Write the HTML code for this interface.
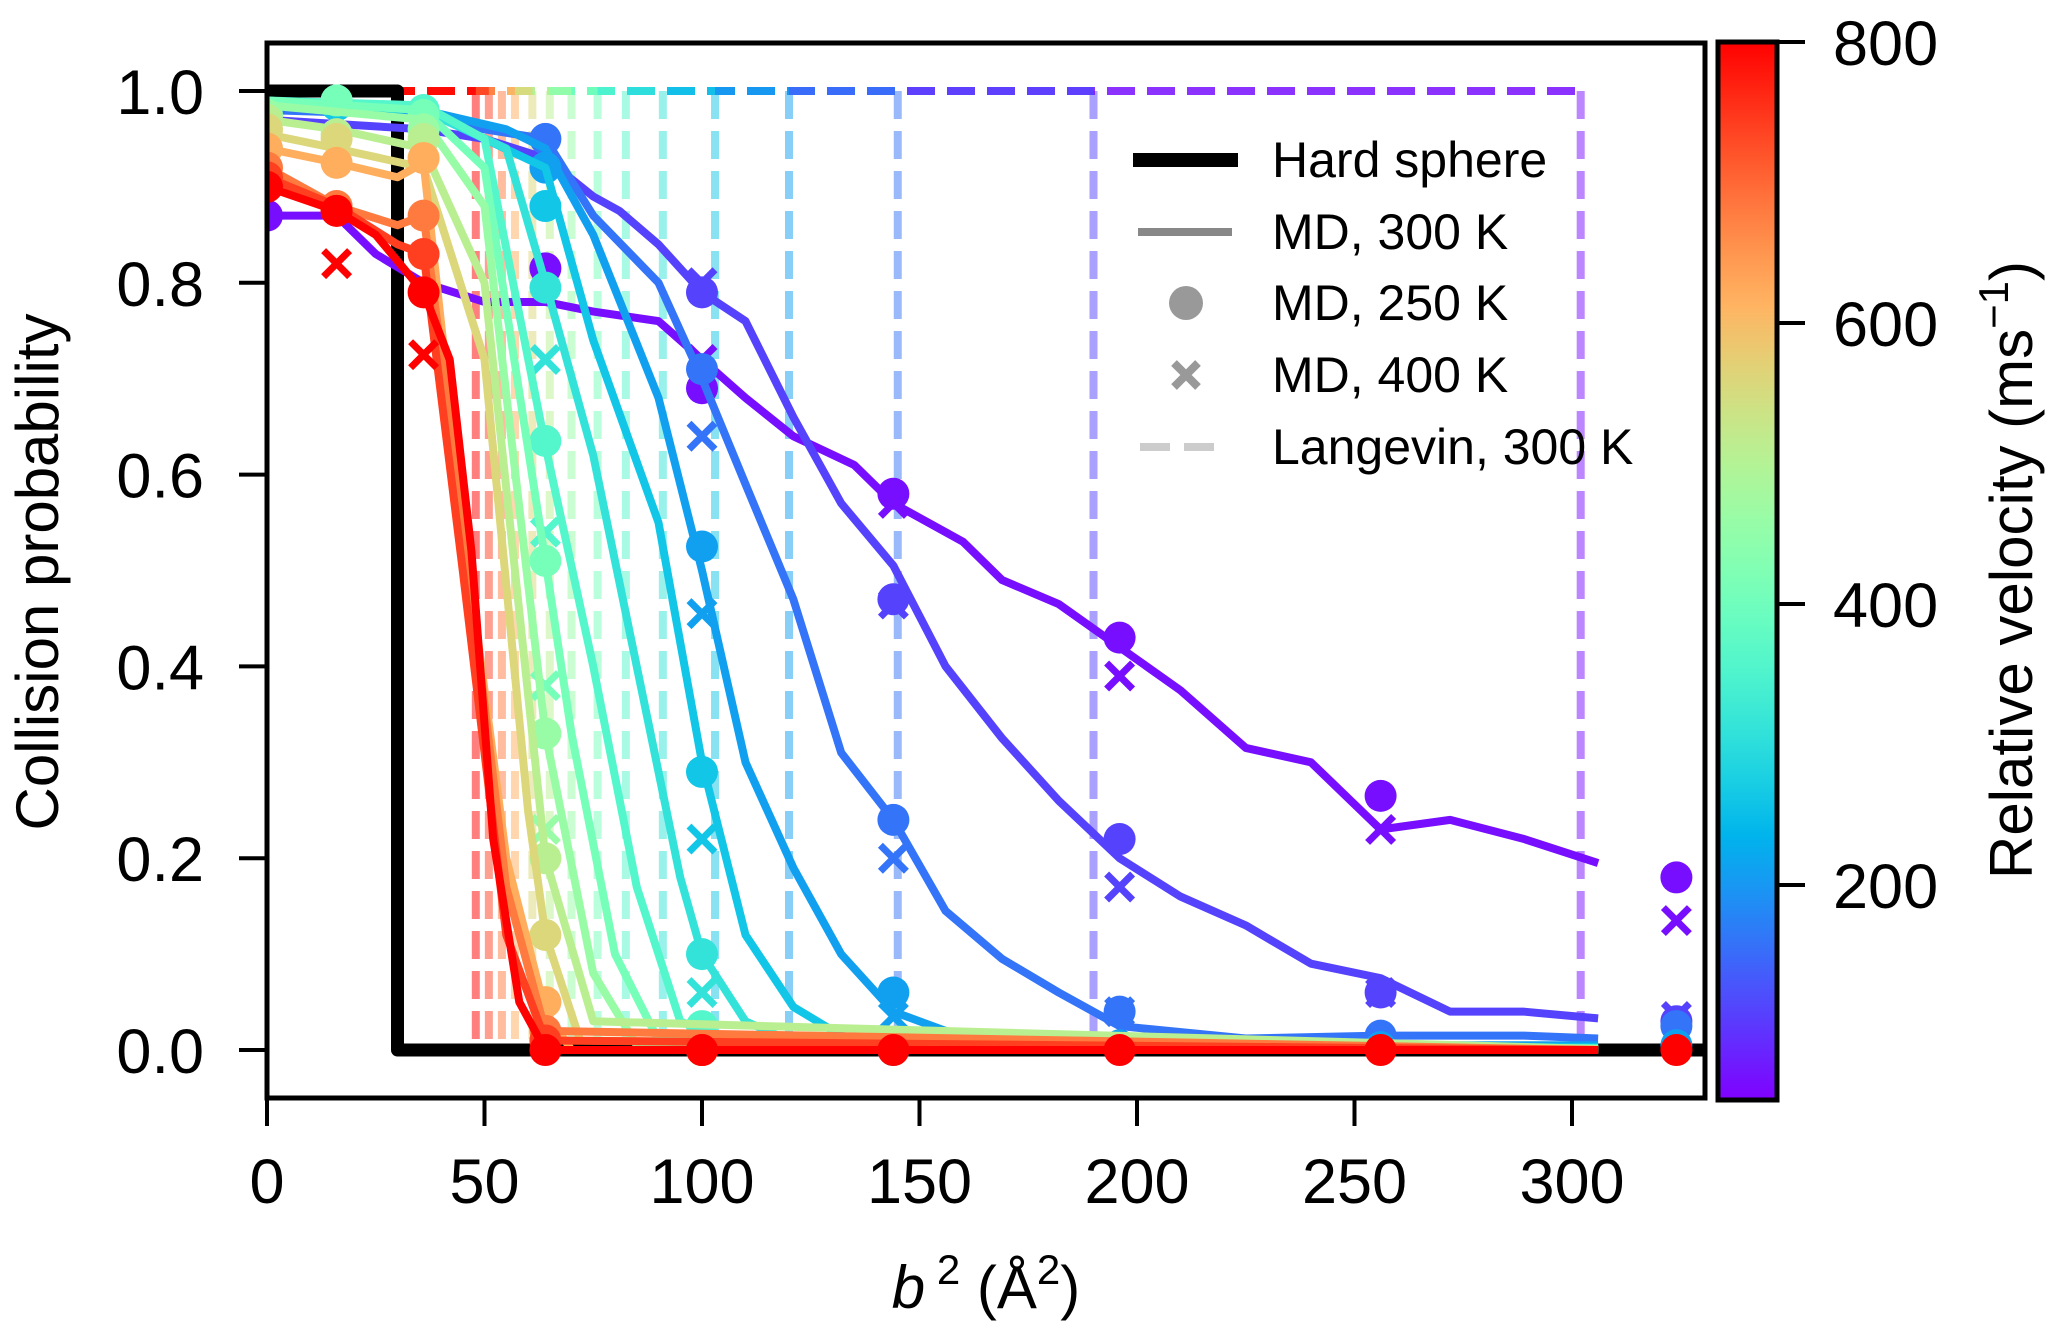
<!DOCTYPE html>
<html><head><meta charset="utf-8"><style>
html,body{margin:0;padding:0;background:#fff;}
svg{display:block;font-family:"Liberation Sans",sans-serif;}
</style></head><body>
<svg id="chart" width="2067" height="1340" viewBox="0 0 2067 1340" xmlns="http://www.w3.org/2000/svg">
<defs>
<linearGradient id="cbgrad" x1="0" y1="1" x2="0" y2="0"></linearGradient>
<clipPath id="plotclip"><rect x="267" y="43" width="1438" height="1055"/></clipPath>
</defs>
<g id="marks" clip-path="url(#plotclip)"></g>
<g id="axes"></g>
</svg>
<script>
// ---- data ----
const velocities = [60,110,160,210,260,310,360,410,460,510,560,620,680,740,800];
const langevinB2 = [302,190,145,120,103,91,82.5,76,70,65,61,57,54,51,48];
const lineX = [
 [0,10,16,25,36,50,64,75,90,100,110,121,135,144,160,169,182,196,210,225,240,256,272,289,306],
 [0,36,50,64,75,81,90,100,110,121,132,144,156,169,182,196,210,225,240,256,272,289,306],
 [0,36,50,64,75,90,100,110,121,132,144,156,169,182,196,225,256,289,306],
 [0,36,55,64,75,90,100,110,121,132,144,156,169,196,306],
 [0,36,64,75,90,100,110,121,132,144,306],
 [0,36,55,64,75,85,95,100,110,121,144,306],
 [0,36,50,64,75,85,95,110,306],
 [0,36,50,64,70,80,90,306],
 [0,36,50,64,75,85,306],
 [0,16,36,50,64,75,306],
 [0,16,36,50,60,64,72,306],
 [0,16,30,36,45,55,64,70,306],
 [0,16,30,36,45,55,64,306],
 [0,16,30,36,45,55,64,306],
 [0,16,25,36,42,47,52,58,64,306]
];
const lineY = [
 [0.87,0.87,0.87,0.83,0.80,0.78,0.78,0.77,0.76,0.72,0.68,0.64,0.61,0.57,0.53,0.49,0.465,0.42,0.375,0.315,0.30,0.23,0.24,0.22,0.195],
 [0.97,0.96,0.95,0.93,0.89,0.875,0.84,0.79,0.76,0.66,0.57,0.505,0.40,0.325,0.26,0.20,0.16,0.13,0.09,0.075,0.04,0.04,0.033],
 [0.98,0.975,0.96,0.95,0.87,0.80,0.70,0.59,0.47,0.31,0.24,0.145,0.095,0.06,0.025,0.012,0.015,0.015,0.012],
 [0.985,0.98,0.96,0.94,0.85,0.68,0.50,0.30,0.19,0.10,0.04,0.02,0.008,0.005,0.005],
 [0.985,0.98,0.92,0.74,0.55,0.30,0.12,0.045,0.015,0.005,0.003],
 [0.99,0.98,0.94,0.80,0.62,0.40,0.18,0.10,0.03,0.008,0.002,0.002],
 [0.99,0.985,0.95,0.63,0.40,0.17,0.03,0.002,0.002],
 [0.99,0.98,0.92,0.51,0.33,0.10,0.01,0.001],
 [0.985,0.97,0.88,0.33,0.08,0.005,0.001],
 [0.97,0.96,0.94,0.80,0.20,0.03,0.001],
 [0.955,0.94,0.92,0.72,0.25,0.12,0.01,0.0],
 [0.94,0.925,0.91,0.925,0.55,0.20,0.04,0.0,0.0],
 [0.92,0.88,0.86,0.87,0.55,0.17,0.02,0.0],
 [0.91,0.88,0.84,0.83,0.50,0.12,0.01,0.0],
 [0.90,0.875,0.85,0.79,0.72,0.52,0.22,0.05,0.0,0.0]
];
const dotX = [
 [0,64,100,144,196,256,324],
 [100,144,196,256,324],
 [64,100,144,196,256,324],
 [64,100,144,196,256,324],
 [16,64,100,144,196],
 [16,36,64,100,144],
 [16,36,64,100],
 [16,36,64,100],
 [0,36,64,100],
 [0,16,36,64,100],
 [0,16,36,64,100],
 [0,16,36,64,100],
 [0,16,36,64,100],
 [0,16,36,64,100],
 [0,16,36,64,100,144,196,256,324]
];
const dotY = [
 [0.87,0.815,0.69,0.58,0.43,0.265,0.18],
 [0.79,0.47,0.22,0.06,0.03],
 [0.95,0.71,0.24,0.04,0.015,0.025],
 [0.92,0.525,0.06,0.005,0.003,0.005],
 [0.985,0.88,0.29,0.005,0.002],
 [0.99,0.98,0.795,0.10,0.0],
 [0.99,0.98,0.635,0.025],
 [0.99,0.975,0.51,0.0],
 [0.975,0.96,0.33,0.0],
 [0.97,0.955,0.95,0.20,0.0],
 [0.96,0.95,0.93,0.12,0.0],
 [0.94,0.925,0.93,0.05,0.0],
 [0.92,0.88,0.87,0.02,0.0],
 [0.91,0.875,0.83,0.01,0.0],
 [0.90,0.875,0.79,0.0,0.0,0.0,0.0,0.0,0.0]
];
const crossX = [
 [100,144,196,256,324],
 [100,144,196,256,324],
 [100,144,196],
 [100,144],
 [100],
 [64,100],
 [64,100],
 [64],
 [64],
 [],[],[],[],[],
 [16,36]
];
const crossY = [
 [0.72,0.57,0.39,0.23,0.135],
 [0.80,0.465,0.17,0.06,0.035],
 [0.64,0.20,0.04],
 [0.455,0.035],
 [0.22],
 [0.72,0.06],
 [0.54,0.02],
 [0.38],
 [0.23],
 [],[],[],[],[],
 [0.82,0.725]
];
const hardX = [0,30,30,331];
const hardY = [1.0,1.0,0.0,0.0];
const xTicks = [0,50,100,150,200,250,300];
const yTicks = [0.0,0.2,0.4,0.6,0.8,1.0];
const cbTicks = [200,400,600,800];

// ---- scales ----
const PX0=267, PX1=1705, PY0=43, PY1=1098;
const XMIN=0, XMAX=(PX1-PX0)/4.35, YMIN=-0.05, YMAX=1.05;
const sx=v=>PX0+(v-XMIN)/(XMAX-XMIN)*(PX1-PX0);
const sy=v=>PY1-(v-YMIN)/(YMAX-YMIN)*(PY1-PY0);
const CB_X=1718, CB_W=59, CB_T=42, CB_B=1100, CMIN=47, CMAX=800;
const cy=v=>CB_B-(v-CMIN)/(CMAX-CMIN)*(CB_B-CB_T);
function rainbow(t){t=Math.max(0,Math.min(1,t));
 const r=Math.min(1,Math.abs(2*t-0.5)),g=Math.sin(Math.PI*t),b=Math.cos(Math.PI*t/2);
 const h=x=>Math.round(Math.max(0,Math.min(1,x))*255);
 return `rgb(${h(r)},${h(g)},${h(b)})`;}
const col=v=>rainbow((v-CMIN)/(CMAX-CMIN));

const NS="http://www.w3.org/2000/svg";
function mk(tag,attrs,parent){const e=document.createElementNS(NS,tag);for(const k in attrs)e.setAttribute(k,attrs[k]);parent.appendChild(e);return e;}
const marks=document.getElementById('marks'), axes=document.getElementById('axes');

// Langevin dashed lines
velocities.forEach((v,i)=>{
 const c=col(v), lx=sx(langevinB2[i]);
 const p=mk('line',{x1:lx,y1:sy(1),x2:lx,y2:sy(0),stroke:c,'stroke-width':8,'stroke-dasharray':'28 12','stroke-opacity':0.5},marks);
 
 
});
for(let i=0;i<velocities.length;i++){
 const p=mk('line',{x1:sx(0),y1:sy(1),x2:sx(langevinB2[i]),y2:sy(1),stroke:col(velocities[i]),'stroke-width':8,'stroke-dasharray':'28 12','stroke-opacity':0.85},marks);
 
 
}
// hard sphere
const hs=mk('polyline',{points:hardX.map((x,i)=>sx(x)+','+sy(hardY[i])).join(' '),fill:'none',stroke:'#000','stroke-width':13,'stroke-linejoin':'round'},marks);


// MD series
velocities.forEach((v,i)=>{
 const c=col(v);
 const g=mk('g',{},marks);
 
 
 const pl=mk('polyline',{points:lineX[i].map((x,j)=>sx(x)+','+sy(lineY[i][j])).join(' '),fill:'none',stroke:c,'stroke-width':8,'stroke-linejoin':'round'},g);
 
 
 dotX[i].forEach((x,j)=>{
  const d=mk('circle',{cx:sx(x),cy:sy(dotY[i][j]),r:16,fill:c},g);
  
  
 });
 crossX[i].forEach((x,j)=>{
  const X=sx(x),Y=sy(crossY[i][j]),s=13;
  const cr=mk('path',{d:`M${X-s},${Y-s}L${X+s},${Y+s}M${X-s},${Y+s}L${X+s},${Y-s}`,stroke:c,'stroke-width':7},g);
  
  
 });
});
// frame
const fr=mk('rect',{x:PX0,y:PY0,width:PX1-PX0,height:PY1-PY0,fill:'none',stroke:'#000','stroke-width':5},axes);


xTicks.forEach(t=>{
 const l=mk('line',{x1:sx(t),y1:PY1,x2:sx(t),y2:PY1+28,stroke:'#000','stroke-width':4},axes);
 
 
 const tx=mk('text',{x:sx(t),y:1203,'font-size':63,'text-anchor':'middle'},axes);
 tx.textContent=t;
 
 
});
yTicks.forEach(t=>{
 const l=mk('line',{x1:PX0-28,y1:sy(t),x2:PX0,y2:sy(t),stroke:'#000','stroke-width':4},axes);
 
 
 const tx=mk('text',{x:204,y:sy(t)+23,'font-size':63,'text-anchor':'end'},axes);
 tx.textContent=t.toFixed(1);
 
 
});
// colorbar
const grad=document.getElementById('cbgrad');
for(let k=0;k<=20;k++){mk('stop',{offset:k/20,'stop-color':rainbow(k/20)},grad);}
const cb=mk('rect',{x:CB_X,y:CB_T,width:CB_W,height:CB_B-CB_T,fill:'url(#cbgrad)',stroke:'#000','stroke-width':5},axes);


cbTicks.forEach(t=>{
 const l=mk('line',{x1:CB_X+CB_W,y1:cy(t),x2:CB_X+CB_W+28,y2:cy(t),stroke:'#000','stroke-width':4},axes);
 
 
 const tx=mk('text',{x:1833,y:cy(t)+23,'font-size':63},axes);
 tx.textContent=t;
 
 
});
</script>
<svg style="position:absolute;left:0;top:0" width="2067" height="1340">
<text x="58" y="572" font-family="Liberation Sans,sans-serif" font-size="60" text-anchor="middle" transform="rotate(-90 58 572)">Collision probability</text>
<text x="2032" y="570" font-family="Liberation Sans,sans-serif" font-size="60" text-anchor="middle" transform="rotate(-90 2032 570)">Relative velocity (ms<tspan dy="-24" font-size="42">−1</tspan><tspan dy="24">)</tspan></text>
<text x="986" y="1308" font-family="Liberation Sans,sans-serif" font-size="60" text-anchor="middle"><tspan font-style="italic">b</tspan><tspan dy="-24" font-size="42"> 2</tspan><tspan dy="24"> (Å</tspan><tspan dy="-24" font-size="42">2</tspan><tspan dy="24">)</tspan></text>
<g font-family="Liberation Sans,sans-serif" font-size="50">
<line x1="1133" y1="160" x2="1238" y2="160" stroke="#000" stroke-width="14"/>
<text x="1272" y="177">Hard sphere</text>
<line x1="1138" y1="232" x2="1232" y2="232" stroke="#888" stroke-width="8"/>
<text x="1272" y="249">MD, 300 K</text>
<circle cx="1186" cy="303" r="17" fill="#999"/>
<text x="1272" y="320">MD, 250 K</text>
<path d="M1174,363L1198,387M1174,387L1198,363" stroke="#999" stroke-width="8"/>
<text x="1272" y="392">MD, 400 K</text>
<line x1="1140" y1="447" x2="1220" y2="447" stroke="#ccc" stroke-width="8" stroke-dasharray="30 14"/>
<text x="1272" y="464">Langevin, 300 K</text>
</g>
</svg>
</body></html>
